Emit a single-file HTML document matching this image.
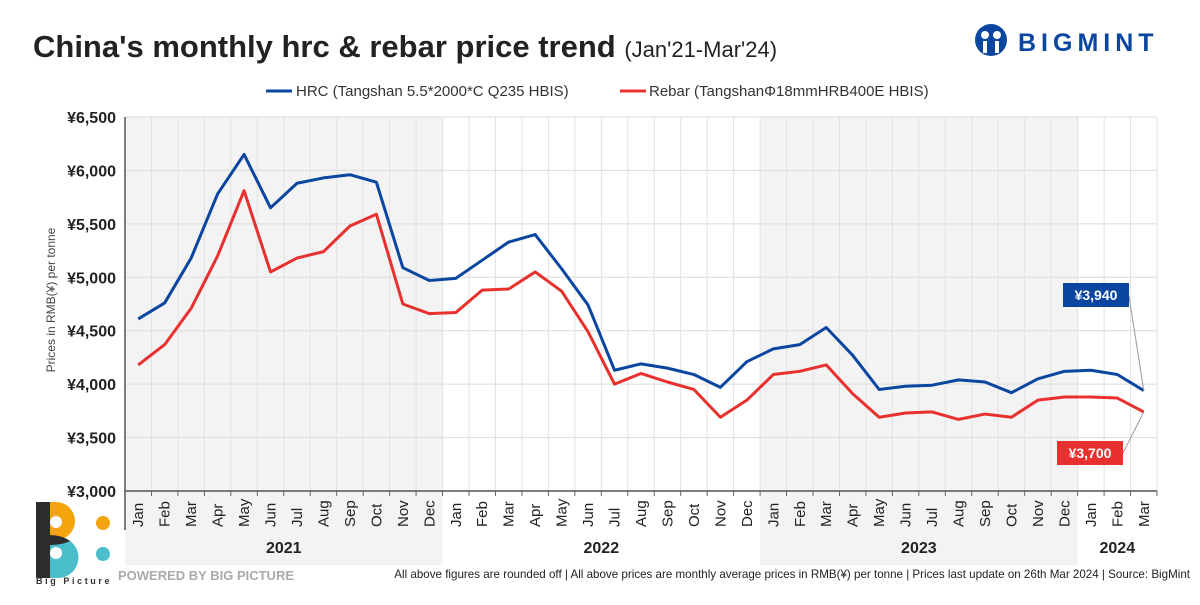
<!DOCTYPE html>
<html><head><meta charset="utf-8"><style>
body{margin:0;width:1200px;height:600px;background:#fff;overflow:hidden;font-family:"Liberation Sans",sans-serif}
svg text{font-family:"Liberation Sans",sans-serif}
</style></head><body>
<svg id="s" width="1200" height="600" xmlns="http://www.w3.org/2000/svg"></svg>
<script>
const hrc=[4610,4760,5180,5780,6150,5650,5880,5930,5960,5890,5090,4970,4990,5160,5330,5400,5080,4740,4130,4190,4150,4090,3970,4210,4330,4370,4530,4270,3950,3980,3990,4040,4020,3920,4050,4120,4130,4090,3940];
const reb=[4180,4370,4710,5200,5810,5050,5180,5240,5480,5590,4750,4660,4670,4880,4890,5050,4870,4490,4000,4100,4020,3950,3690,3850,4090,4120,4180,3910,3690,3730,3740,3670,3720,3690,3850,3880,3880,3870,3740];
const L=125,R=1157,T=117,B=491,n=39,w=(R-L)/n;
const X=i=>L+w*(i+0.5),Y=v=>B-(v-3000)/3500*(B-T);
const M=["Jan","Feb","Mar","Apr","May","Jun","Jul","Aug","Sep","Oct","Nov","Dec"];
let h='';
h+=`<rect x="${L}" y="${T}" width="${12*w}" height="${565-T}" fill="#f3f3f3"/>`;
h+=`<rect x="${L+24*w}" y="${T}" width="${12*w}" height="${565-T}" fill="#f3f3f3"/>`;
for(let k=0;k<=7;k++){const y=Y(3000+k*500);h+=`<line x1="${L}" x2="${R}" y1="${y}" y2="${y}" stroke="#dcdcdc"/>`;
h+=`<text x="116" y="${y+6}" text-anchor="end" font-size="16" font-weight="bold" fill="#222">¥${(3000+k*500).toLocaleString('en-US')}</text>`;}
for(let i=1;i<=n;i++){const x=L+w*i;h+=`<line x1="${x}" x2="${x}" y1="${T}" y2="${B}" stroke="#e2e2e2"/>`;}
for(let i=0;i<n;i++){const x=X(i)+5;h+=`<text transform="translate(${x},527) rotate(-90)" font-size="15" fill="#222">${M[i%12]}</text>`;
h+=`<line x1="${L+w*(i+1)}" x2="${L+w*(i+1)}" y1="${B}" y2="${B+5}" stroke="#666"/>`;}
[[0,12,'2021'],[12,24,'2022'],[24,36,'2023'],[36,39,'2024']].forEach(a=>{h+=`<text x="${L+w*(a[0]+a[1])/2}" y="553" text-anchor="middle" font-size="16" font-weight="bold" fill="#222">${a[2]}</text>`;});
h+=`<line x1="${L}" x2="${L}" y1="${T}" y2="530" stroke="#555" stroke-width="1.5"/><line x1="${L}" x2="${R}" y1="${B}" y2="${B}" stroke="#555" stroke-width="1.5"/>`;
const pl=(d,c)=>`<polyline fill="none" stroke="${c}" stroke-width="3" stroke-linejoin="round" points="${d.map((v,i)=>X(i)+','+Y(v)).join(' ')}"/>`;
h+=pl(reb,'#e8302e')+pl(hrc,'#0a46a0');
h+=`<line x1="1129" y1="296" x2="${X(38)}" y2="${Y(3940)}" stroke="#999"/><rect x="1063" y="283" width="66" height="24" fill="#0a46a0"/><text x="1096" y="300" text-anchor="middle" font-size="14" font-weight="bold" fill="#fff">¥3,940</text>`;
h+=`<line x1="1123" y1="453" x2="${X(38)}" y2="${Y(3740)}" stroke="#999"/><rect x="1057" y="441" width="66" height="24" fill="#e8302e"/><text x="1090" y="458" text-anchor="middle" font-size="14" font-weight="bold" fill="#fff">¥3,700</text>`;
h+=`<text transform="translate(55,300) rotate(-90)" text-anchor="middle" font-size="12" fill="#444">Prices in RMB(¥) per tonne</text>`;
h+=`<text x="33" y="57" font-size="31" font-weight="bold" fill="#222">China's monthly hrc &amp; rebar price trend <tspan font-size="22" font-weight="normal">(Jan'21-Mar'24)</tspan></text>`;
h+=`<line x1="266" x2="292" y1="91" y2="91" stroke="#0a46a0" stroke-width="3"/><text x="296" y="96" font-size="15" fill="#333">HRC (Tangshan 5.5*2000*C Q235 HBIS)</text>`;
h+=`<line x1="620" x2="646" y1="91" y2="91" stroke="#e8302e" stroke-width="3"/><text x="649" y="96" font-size="15" fill="#333">Rebar (TangshanΦ18mmHRB400E HBIS)</text>`;
h+=`<circle cx="991" cy="40" r="16" fill="#0a46a0"/><circle cx="985" cy="35" r="4" fill="#fff"/><circle cx="997" cy="35" r="4" fill="#fff"/><rect x="983" y="41" width="4" height="12" fill="#fff"/><rect x="995" y="41" width="4" height="12" fill="#fff"/>`;
h+=`<text x="1018" y="51" font-size="25" font-weight="bold" fill="#0a46a0" letter-spacing="5">BIGMINT</text>`;
h+=`<path d="M48 502 H56 A19 19 0 0 1 56 540 H48 Z" fill="#f4a40c"/><path d="M48 537 H58 A20 20 0 0 1 58 578 H48 Z" fill="#4bbecb"/><rect x="36" y="502" width="14" height="76" fill="#2d2d2d"/><path d="M48 535 Q62 535 70 541 Q62 545 48 545 Z" fill="#2d2d2d"/><circle cx="56" cy="522" r="6" fill="#fff"/><circle cx="56" cy="553" r="6" fill="#fff"/><circle cx="103" cy="523" r="7" fill="#f4a40c"/><circle cx="103" cy="554" r="7" fill="#4bbecb"/>`;
h+=`<text x="36" y="584" font-size="9" font-weight="bold" fill="#333" letter-spacing="2.6">Big Picture</text>`;
h+=`<text x="118" y="580" font-size="13" font-weight="bold" fill="#aaa">POWERED BY BIG PICTURE</text>`;
h+=`<text x="1190" y="578" text-anchor="end" font-size="11.6" fill="#222">All above figures are rounded off | All above prices are monthly average prices in RMB(¥) per tonne | Prices last update on 26th Mar 2024 | Source: BigMint</text>`;
document.getElementById('s').innerHTML=h;
</script></body></html>
